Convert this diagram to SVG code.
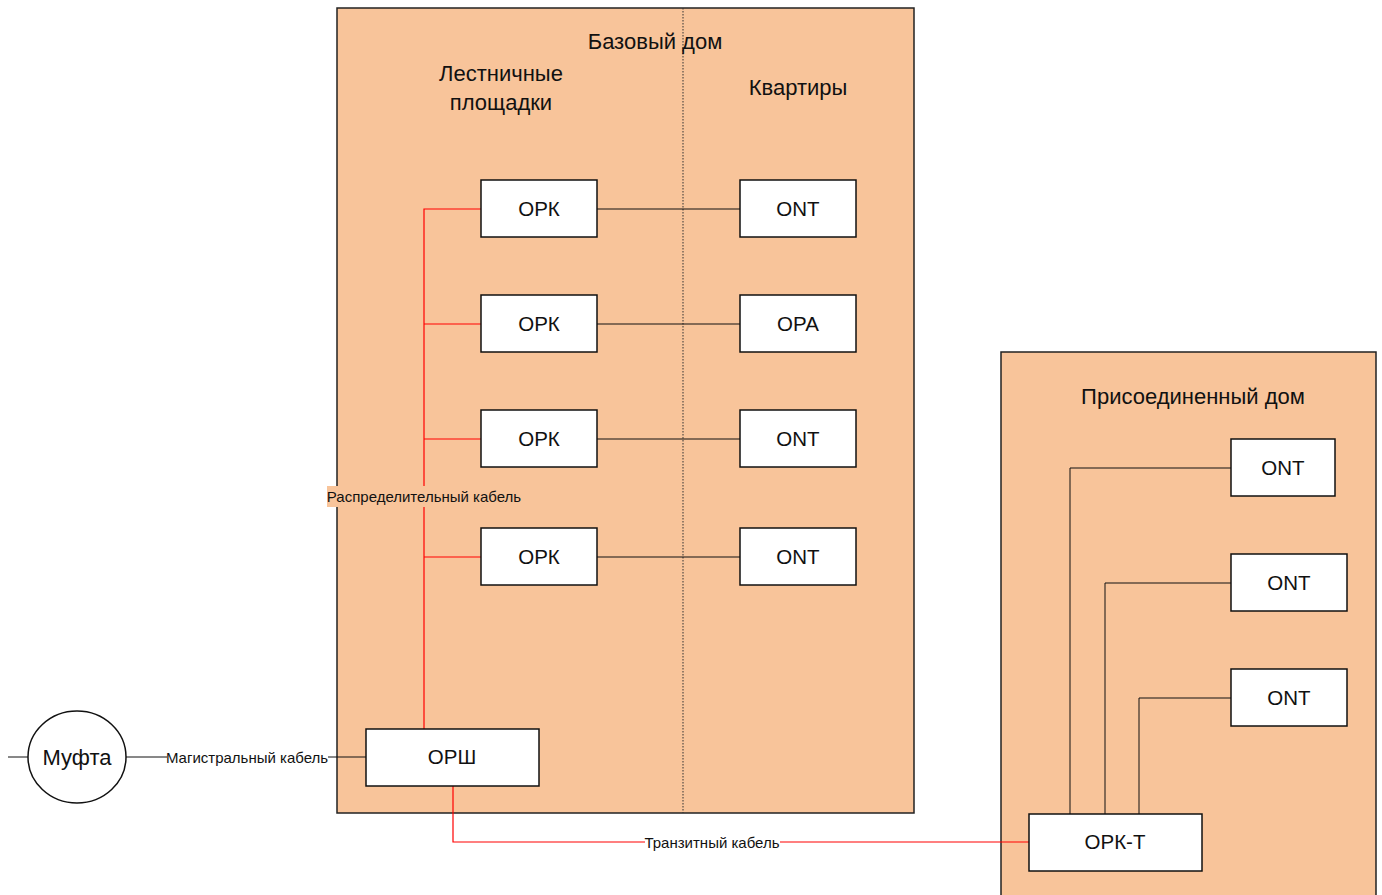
<svg xmlns="http://www.w3.org/2000/svg" width="1382" height="895" viewBox="0 0 1382 895">
<style>
.house{fill:#F8C49A;stroke:#222;stroke-width:1.5}
.node rect{fill:#fff;stroke:#111;stroke-width:1.5}
.node text{font-family:"Liberation Sans",Arial,sans-serif;font-size:20.5px;fill:#111;text-anchor:middle}
.t{font-family:"Liberation Sans",Arial,sans-serif;font-size:22px;fill:#111;text-anchor:middle}
.lbl{font-family:"Liberation Sans",Arial,sans-serif;font-size:15px;fill:#111;text-anchor:middle}
.blk{stroke:#111;stroke-width:1;fill:none}
.red{stroke:#f00;stroke-width:1.2;fill:none}
</style>
<rect class="house" x="337" y="8" width="577" height="805"/>
<line x1="683" y1="8" x2="683" y2="813" stroke="#333" stroke-width="1" stroke-dasharray="1.5,1.5"/>
<rect class="house" x="1001" y="352" width="375" height="560"/>
<text class="t" x="655" y="49">Базовый дом</text>
<text class="t" x="501" y="81">Лестничные</text>
<text class="t" x="501" y="110">площадки</text>
<text class="t" x="798" y="95">Квартиры</text>
<text class="t" x="1193" y="404">Присоединенный дом</text>
<g id="connectors">
<path class="red" d="M424 729V209H481M424 324H481M424 439H481M424 557H481"/>
<path class="blk" d="M597 209H740M597 324H740M597 439H740M597 557H740"/>
<path class="blk" d="M8 757H28M126 757H366"/>
<path class="red" d="M453 786V842H1029"/>
<path class="blk" d="M1070 814V468H1231M1105 814V583H1231M1139 814V698H1231"/>
<rect x="327" y="486" width="194" height="21" fill="#F8C49A"/>
<text class="lbl" x="424" y="502">Распределительный кабель</text>
<rect x="167" y="748" width="161" height="18" fill="#fff"/>
<text class="lbl" x="247" y="763">Магистральный кабель</text>
<rect x="645" y="833" width="135" height="18" fill="#fff"/>
<text class="lbl" x="712" y="848">Транзитный кабель</text>
</g>
<g id="mufta" class="node"><ellipse cx="77" cy="757" rx="49" ry="46" fill="#fff" stroke="#111" stroke-width="1.5"/><text x="77" y="765" style="font-size:22px">Муфта</text></g>
<g id="ork1" class="node"><rect x="481" y="180" width="116" height="57"/><text x="539" y="216">ОРК</text></g>
<g id="ork2" class="node"><rect x="481" y="295" width="116" height="57"/><text x="539" y="331">ОРК</text></g>
<g id="ork3" class="node"><rect x="481" y="410" width="116" height="57"/><text x="539" y="446">ОРК</text></g>
<g id="ork4" class="node"><rect x="481" y="528" width="116" height="57"/><text x="539" y="564">ОРК</text></g>
<g id="ont1" class="node"><rect x="740" y="180" width="116" height="57"/><text x="798" y="216">ONT</text></g>
<g id="opa" class="node"><rect x="740" y="295" width="116" height="57"/><text x="798" y="331">ОРА</text></g>
<g id="ont2" class="node"><rect x="740" y="410" width="116" height="57"/><text x="798" y="446">ONT</text></g>
<g id="ont3" class="node"><rect x="740" y="528" width="116" height="57"/><text x="798" y="564">ONT</text></g>
<g id="orsh" class="node"><rect x="366" y="729" width="173" height="57"/><text x="452" y="764">ОРШ</text></g>
<g id="ont4" class="node"><rect x="1231" y="439" width="104" height="57"/><text x="1283" y="475">ONT</text></g>
<g id="ont5" class="node"><rect x="1231" y="554" width="116" height="57"/><text x="1289" y="590">ONT</text></g>
<g id="ont6" class="node"><rect x="1231" y="669" width="116" height="57"/><text x="1289" y="705">ONT</text></g>
<g id="orkt" class="node"><rect x="1029" y="814" width="173" height="57"/><text x="1115" y="849">ОРК-Т</text></g>
</svg>
